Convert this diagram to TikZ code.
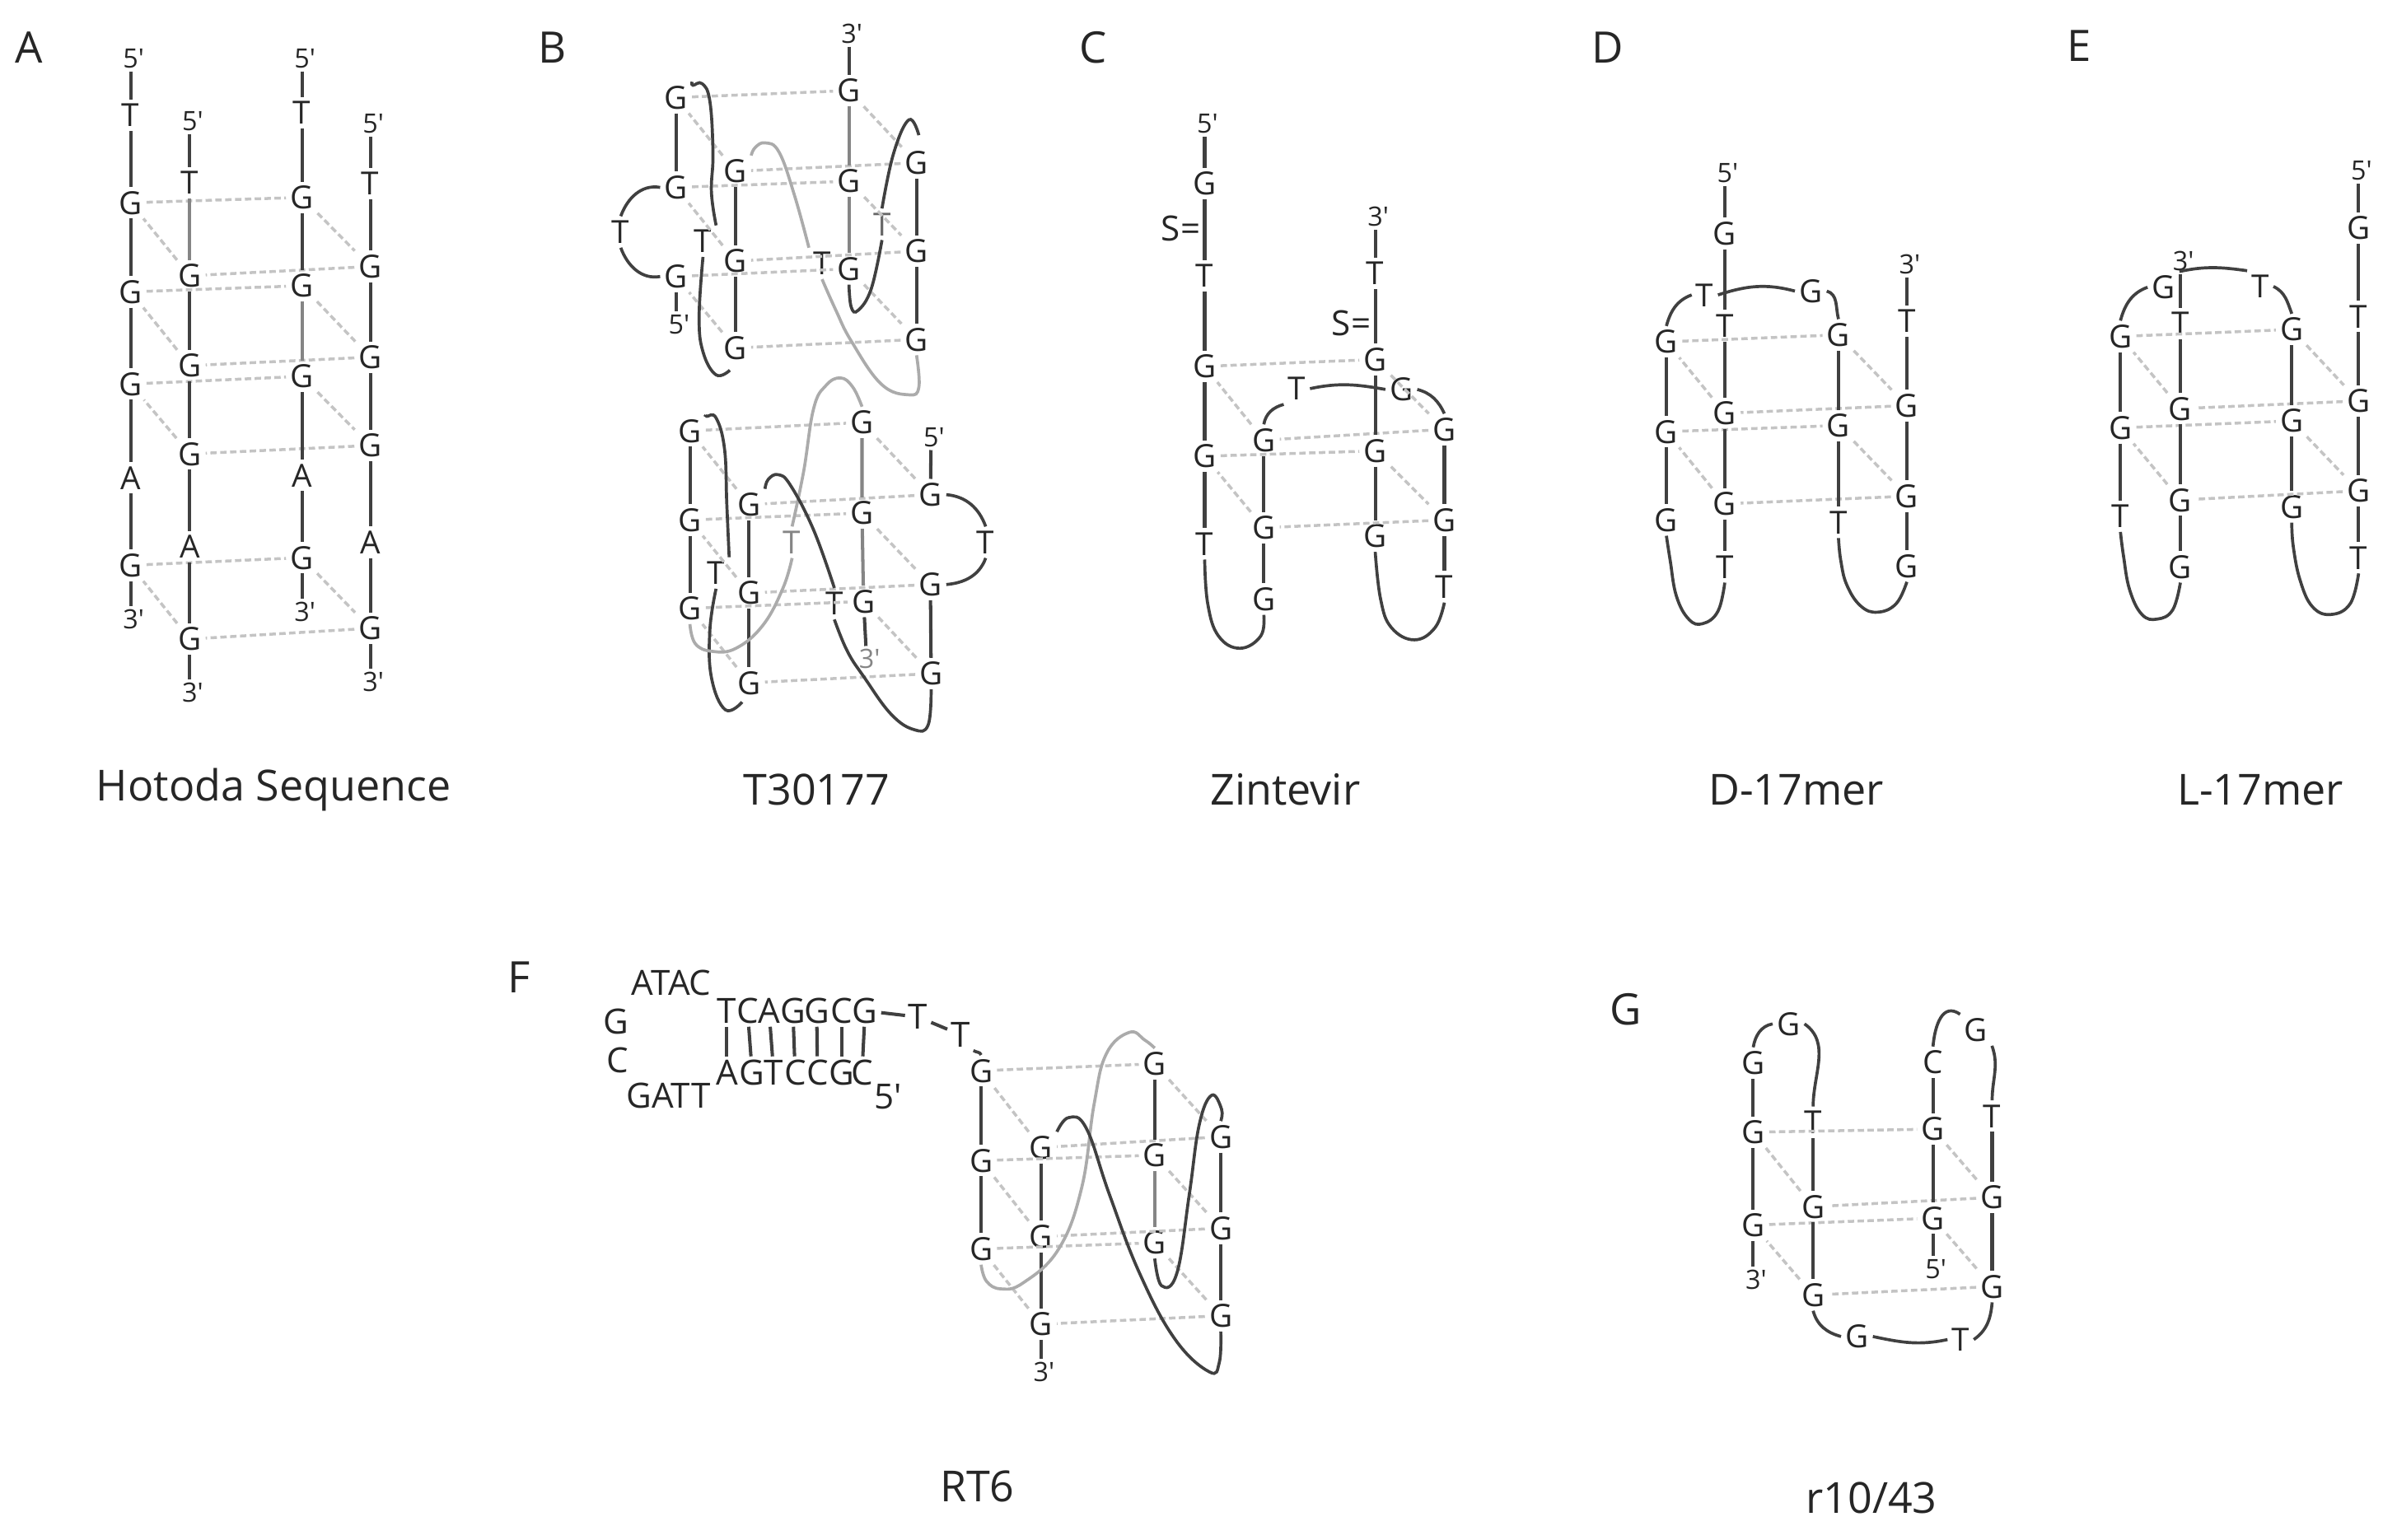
\documentclass[tikz,border=0pt]{standalone}
\usepackage{fontspec}
\setmainfont{Open Sans}
\definecolor{inkdark}{HTML}{404040}
\definecolor{inkmid}{HTML}{858585}
\definecolor{inkpale}{HTML}{ABABAB}
\definecolor{inkpair}{HTML}{C4C4C4}
\definecolor{inktext}{HTML}{262626}
\newcommand{\pf}{5\rlap{′}}
\newcommand{\pt}{3\rlap{′}}
\tikzset{
	nuc/.style={font=\fontsize{11}{11}\selectfont,text=inktext,inner sep=1.3pt,text height=7.9pt,text depth=0pt},
	nucb/.style={font=\fontsize{12}{12}\selectfont,text=inktext,inner sep=1pt,text height=8.6pt,text depth=0pt},
	tag/.style={font=\fontsize{9.2}{9}\selectfont,text=inktext,inner sep=1pt,text height=6.6pt,text depth=0pt},
	sulfur/.style={font=\fontsize{12}{12}\selectfont,text=inktext,inner sep=0pt,anchor=east},
	panel/.style={font=\fontsize{15}{15}\selectfont,text=inktext,inner sep=0pt},
	seqname/.style={font=\fontsize{14.8}{15}\selectfont,text=inktext,inner sep=0pt},
	strand/.style={draw=inkdark,line width=1.15pt},
	strandmid/.style={draw=inkmid,line width=1.15pt},
	pair/.style={draw=inkpair,line width=1pt,dash pattern=on 2.2pt off 1.2pt},
	curl/.style={draw=inkdark,line width=1.05pt,smooth,tension=0.7},
	curlpale/.style={draw=inkpale,line width=1.05pt,smooth,tension=0.7}
}
\begin{document}
\begin{tikzpicture}[x=0.018654cm,y=-0.018654cm]
	\useasboundingbox (0,0) rectangle (1560,1002);

	\node[panel] (lbla) at (19,31) {A};
	\node[seqname] (ttla) at (178,514) {Hotoda Sequence};
	\node[tag] (a1a) at (85,38) {\pf};
	\node[nuc] (a1b) at (85,75) {T};
	\node[nuc] (a1c) at (85,132) {G};
	\node[nuc] (a1d) at (85,190) {G};
	\node[nuc] (a1e) at (85,250) {G};
	\node[nuc] (a1f) at (85,311) {A};
	\node[nuc] (a1g) at (85,368) {G};
	\node[tag] (a1h) at (85,403) {\pt};
	\node[tag] (a2a) at (123.5,79) {\pf};
	\node[nuc] (a2b) at (123.5,119) {T};
	\node[nuc] (a2c) at (123.5,179.5) {G};
	\node[nuc] (a2d) at (123.5,238) {G};
	\node[nuc] (a2e) at (123.5,295.5) {G};
	\node[nuc] (a2f) at (123.5,356) {A};
	\node[nuc] (a2g) at (123.5,416) {G};
	\node[tag] (a2h) at (123.5,451) {\pt};
	\node[tag] (a3a) at (196.5,38) {\pf};
	\node[nuc] (a3b) at (196.5,73.5) {T};
	\node[nuc] (a3c) at (196.5,128.5) {G};
	\node[nuc] (a3d) at (196.5,186) {G};
	\node[nuc] (a3e) at (196.5,245) {G};
	\node[nuc] (a3f) at (196.5,309.5) {A};
	\node[nuc] (a3g) at (196.5,363) {G};
	\node[tag] (a3h) at (196.5,398) {\pt};
	\node[tag] (a4a) at (241,80.5) {\pf};
	\node[nuc] (a4b) at (241,119.5) {T};
	\node[nuc] (a4c) at (241,173.5) {G};
	\node[nuc] (a4d) at (241,232.5) {G};
	\node[nuc] (a4e) at (241,290) {G};
	\node[nuc] (a4f) at (241,353) {A};
	\node[nuc] (a4g) at (241,409) {G};
	\node[tag] (a4h) at (241,444) {\pt};
	\draw[pair] (a1c) -- (a3c) -- (a4c) -- (a2c) -- (a1c);
	\draw[pair] (a1d) -- (a3d) -- (a4d) -- (a2d) -- (a1d);
	\draw[pair] (a1e) -- (a3e) -- (a4e) -- (a2e) -- (a1e);
	\draw[pair] (a1g) -- (a3g) -- (a4g) -- (a2g) -- (a1g);
	\draw[strand] (a1a) -- (a1b) -- (a1c) -- (a1d) -- (a1e) -- (a1f) -- (a1g) -- (a1h);
	\draw[strand] (a2a) -- (a2b);
	\draw[strandmid] (a2b) -- (a2c);
	\draw[strand] (a2c) -- (a2d) -- (a2e) -- (a2f) -- (a2g) -- (a2h);
	\draw[strand] (a3a) -- (a3b) -- (a3c) -- (a3d);
	\draw[strandmid] (a3d) -- (a3e);
	\draw[strand] (a3e) -- (a3f) -- (a3g) -- (a3h);
	\draw[strand] (a4a) -- (a4b) -- (a4c) -- (a4d) -- (a4e) -- (a4f) -- (a4g) -- (a4h);

	\node[panel] (lblb) at (359.5,31) {B};
	\node[seqname] (ttlb) at (531.5,514) {T30177};
	\node[nuc] (bta1) at (440,63.5) {G};
	\node[nuc] (bta2) at (440,122) {G};
	\node[nuc] (bta3) at (440,180) {G};
	\node[tag] (bta4) at (440,211) {\pf};
	\node[nuc] (btb1) at (478.5,111.5) {G};
	\node[nuc] (btb2) at (478.5,170) {G};
	\node[nuc] (btb3) at (478.5,226.5) {G};
	\node[tag] (btc1) at (552.5,22) {\pt};
	\node[nuc] (btc2) at (552.5,59) {G};
	\node[nuc] (btc3) at (552.5,118) {G};
	\node[nuc] (btc4) at (552.5,175) {G};
	\node[nuc] (btd1) at (596.5,106) {G};
	\node[nuc] (btd2) at (596.5,163.5) {G};
	\node[nuc] (btd3) at (596.5,221) {G};
	\node[nuc] (btt1) at (404,151) {T};
	\node[nuc] (btt2) at (457.5,157) {T};
	\node[nuc] (btt3) at (535,171.5) {T};
	\node[nuc,text=inkdark!80] (btt4) at (574,146) {T};
	\coordinate (bte1) at (475,241);
	\coordinate (bte2) at (598,88);
	\draw[pair] (bta1) -- (btc2) -- (btd1) -- (btb1) -- (bta1);
	\draw[pair] (bta2) -- (btc3) -- (btd2) -- (btb2) -- (bta2);
	\draw[pair] (bta3) -- (btc4) -- (btd3) -- (btb3) -- (bta3);
	\draw[strand] (bta1) -- (bta2) (bta3) -- (bta4);
	\draw[strand] (btb1) -- (btb2) -- (btb3);
	\draw[strand] (btc1) -- (btc2);
	\draw[strandmid] (btc2) -- (btc3) -- (btc4);
	\draw[strand] (btd1) -- (btd2) -- (btd3);
	\draw[curl] (bta2.west) to[out=170,in=70] (btt1.north);
	\draw[curl] (btt1.south) to[out=-70,in=190] (bta3.west);
	\draw[curl] plot coordinates {(bta1.north east) (451,55.5) (457,54.5) (462,66) (464,100) (463,125) (btt2.north east)};
	\draw[curl] plot coordinates {(btt2.south) (455,206) (457.5,229) (466,244) (bte1)};
	\draw[curlpale] plot coordinates {(btb1.north east) (491.5,96) (498,93) (507,99) (517,127) (btt3.north west)};
	\draw[curlpale] plot coordinates {(btt3.south) (544,202) (554,222) (573.5,250) (591.5,257) (598,252) (btd3.south)};
	\draw[curl] plot coordinates {(btc4.south) (554,200) (558.5,202) (567,188) (btt4.south)};
	\draw[curl] plot coordinates {(btt4.north) (581.5,100) (591.5,78) (bte2)};

	\node[nuc] (bua1) at (449,280.5) {G};
	\node[nuc] (bua2) at (449,338.5) {G};
	\node[nuc] (bua3) at (449,396) {G};
	\node[nuc] (bub1) at (487.5,328.5) {G};
	\node[nuc] (bub2) at (487.5,386) {G};
	\node[nuc] (bub3) at (487.5,444.5) {G};
	\node[nuc] (buc1) at (561,275) {G};
	\node[nuc] (buc2) at (561,334) {G};
	\node[nuc] (buc3) at (562,391.5) {G};
	\node[tag,text=inkmid] (buc4) at (564,429) {\pt};
	\node[tag] (bud1) at (606,284.5) {\pf};
	\node[nuc] (bud2) at (605.5,322) {G};
	\node[nuc] (bud3) at (605.5,380.5) {G};
	\node[nuc] (bud4) at (606,438.5) {G};
	\node[nuc] (but1) at (466,373) {T};
	\node[nuc,text=inkmid] (but2) at (515.5,353) {T};
	\node[nuc] (but3) at (543,393) {T};
	\node[nuc] (but4) at (641.5,353) {T};
	\coordinate (bue1) at (483,457);
	\draw[pair] (bua1) -- (buc1) -- (bud2) -- (bub1) -- (bua1);
	\draw[pair] (bua2) -- (buc2) -- (bud3) -- (bub2) -- (bua2);
	\draw[pair] (bua3) -- (buc3) -- (bud4) -- (bub3) -- (bua3);
	\draw[strand] (bua1) -- (bua2) -- (bua3);
	\draw[strand] (bub1) -- (bub2) -- (bub3);
	\draw[strandmid] (buc1) -- (buc2) -- (buc3);
	\draw[strand] (buc3) -- (buc4);
	\draw[strand] (bud1) -- (bud2) (bud3) -- (bud4);
	\draw[curl] (bud2.east) to[out=-5,in=110] (but4.north);
	\draw[curl] (but4.south) to[out=-110,in=5] (bud3.east);
	\draw[curl] plot coordinates {(bua1.north east) (460,271) (466,272) (471.5,292) (473,328) (but1.north east)};
	\draw[curl] plot coordinates {(but1.south) (462,410) (463,441) (472,462) (bue1)};
	\draw[curlpale] plot coordinates {(bua3.south) (452.5,419) (463.5,424) (479,422) (496.5,407) (509.5,383) (but2.south)};
	\draw[curlpale] plot coordinates {(but2.north) (523,307) (529.5,266) (537.5,251) (547,246) (555,252) (buc1.north)};
	\draw[curl] plot coordinates {(bub1.north east) (500,312) (506.5,309) (514.5,316) (529.5,345) (but3.north)};
	\draw[curl] plot coordinates {(but3.south) (551.5,424) (562.5,441) (580,465) (595,475) (604,472) (bud4.south)};

	\node[panel] (lblc) at (711.5,31) {C};
	\node[seqname] (ttlc) at (836.5,514) {Zintevir};
	\node[tag] (c1a) at (784,80.5) {\pf};
	\node[nuc] (c1b) at (784,119.5) {G};
	\node[sulfur] (s1) at (781.5,149) {S=};
	\node[nuc] (c1c) at (784,179.5) {T};
	\node[nuc] (c1d) at (784,238.5) {G};
	\node[nuc] (c1e) at (784,297) {G};
	\node[nuc] (c1f) at (784,354) {T};
	\node[nuc] (c2a) at (822.5,286.5) {G};
	\node[nuc] (c2b) at (822.5,343.5) {G};
	\node[nuc] (c2c) at (822.5,390) {G};
	\node[nuc] (ct1) at (844,253) {T};
	\node[tag] (c3a) at (895,141) {\pt};
	\node[nuc] (c3b) at (895,178) {T};
	\node[sulfur] (s2) at (892.5,210.5) {S=};
	\node[nuc] (c3c) at (895,234) {G};
	\node[nuc] (c3d) at (895,293.5) {G};
	\node[nuc] (c3e) at (895,349) {G};
	\node[nuc] (ct2) at (912,253.5) {G};
	\node[nuc] (c4a) at (940,279.5) {G};
	\node[nuc] (c4b) at (940,338.5) {G};
	\node[nuc] (c4c) at (940,382) {T};
	\draw[pair] (c1d) -- (c3c) -- (c4a) -- (c2a) -- (c1d);
	\draw[pair] (c1e) -- (c3d) -- (c4b) -- (c2b) -- (c1e);
	\draw[strand] (c1a) -- (c1b) -- (c1c) -- (c1d) -- (c1e) -- (c1f);
	\draw[strand] (c2a) -- (c2b) -- (c2c);
	\draw[strand] (c3a) -- (c3b) -- (c3c) -- (c3d) -- (c3e);
	\draw[strand] (c4a) -- (c4b) -- (c4c);
	\draw[curl] plot coordinates {(c1f.south) (786,393) (793,414) (807,422) (820.5,414) (c2c.south)};
	\draw[curl] plot coordinates {(c3e.south) (898.5,390) (905.5,408.5) (920.5,416.5) (934,408.5) (c4c.south)};
	\draw[curl] (c2a.north) to[out=80,in=195] (ct1.south west);
	\draw[curl] (ct1.east) to[out=12,in=170] (ct2.west);
	\draw[curl] (ct2.east) to[out=-15,in=115] (c4a.north);

	\node[panel] (lbld) at (1046,31) {D};
	\node[seqname] (ttld) at (1169,514) {D-17mer};
	\node[nuc] (d1a) at (1084.5,222.5) {G};
	\node[nuc] (d1b) at (1084.5,281) {G};
	\node[nuc] (d1c) at (1084.5,338.5) {G};
	\node[tag] (d2a) at (1122.5,112.5) {\pf};
	\node[nuc] (d2b) at (1122.5,152) {G};
	\node[nuc] (d2c) at (1122.5,212) {T};
	\node[nuc] (d2d) at (1122.5,269) {G};
	\node[nuc] (d2e) at (1122.5,328) {G};
	\node[nuc] (d2f) at (1122.5,369) {T};
	\node[nuc] (dt1) at (1109.5,192) {T};
	\node[nuc] (dt2) at (1178.5,189.5) {G};
	\node[nuc] (d3a) at (1196.5,218) {G};
	\node[nuc] (d3b) at (1196.5,277) {G};
	\node[nuc] (d3c) at (1196.5,340) {T};
	\node[tag] (d4a) at (1241,172) {\pt};
	\node[nuc] (d4b) at (1241,209) {T};
	\node[nuc] (d4c) at (1241,264) {G};
	\node[nuc] (d4d) at (1241,323) {G};
	\node[nuc] (d4e) at (1241,368.5) {G};
	\draw[pair] (d1a) -- (d3a) -- (d4c) -- (d2d) -- (d1a);
	\draw[pair] (d1b) -- (d3b) -- (d4d) -- (d2e) -- (d1b);
	\draw[strand] (d1a) -- (d1b) -- (d1c);
	\draw[strand] (d2a) -- (d2b) -- (d2c) -- (d2d) -- (d2e) -- (d2f);
	\draw[strand] (d3a) -- (d3b) -- (d3c);
	\draw[strand] (d4a) -- (d4b) -- (d4c) -- (d4d) -- (d4e);
	\draw[curl] (d1a.north) to[out=75,in=200] (dt1.west);
	\draw[curl] (dt1.east) to[out=18,in=165] (dt2.west);
	\draw[curl] (dt2.east) to[out=-15,in=105] (d3a.north);
	\draw[curl] plot coordinates {(d1c.south) (1087,365) (1091,388) (1099,403) (1108,406) (1118,398) (d2f.south)};
	\draw[curl] plot coordinates {(d3c.south) (1198,365) (1202,381) (1211,394.5) (1222,398.5) (1234,393) (d4e.south)};

	\node[panel] (lble) at (1353,30) {E};
	\node[seqname] (ttle) at (1471,514) {L-17mer};
	\node[nuc] (e1a) at (1380,219) {G};
	\node[nuc] (e1b) at (1380,278.5) {G};
	\node[nuc] (e1c) at (1380,336) {T};
	\node[tag] (e2a) at (1419,170) {\pt};
	\node[nuc] (e2b) at (1419,210.5) {T};
	\node[nuc] (e2c) at (1419,266) {G};
	\node[nuc] (e2d) at (1419,325.5) {G};
	\node[nuc] (e2e) at (1419,369) {G};
	\node[nuc] (et1) at (1408,187) {G};
	\node[nuc] (et2) at (1471,186.5) {T};
	\node[nuc] (e3a) at (1491.5,214.5) {G};
	\node[nuc] (e3b) at (1491.5,274) {G};
	\node[nuc] (e3c) at (1491.5,330) {G};
	\node[tag] (e4a) at (1535,111) {\pf};
	\node[nuc] (e4b) at (1535,148.5) {G};
	\node[nuc] (e4c) at (1535,206) {T};
	\node[nuc] (e4d) at (1535,261) {G};
	\node[nuc] (e4e) at (1535,319.5) {G};
	\node[nuc] (e4f) at (1535,363) {T};
	\draw[pair] (e1a) -- (e3a) -- (e4d) -- (e2c) -- (e1a);
	\draw[pair] (e1b) -- (e3b) -- (e4e) -- (e2d) -- (e1b);
	\draw[strand] (e1a) -- (e1b) -- (e1c);
	\draw[strand] (e2a) -- (e2b) -- (e2c) -- (e2d) -- (e2e);
	\draw[strand] (e3a) -- (e3b) -- (e3c);
	\draw[strand] (e4a) -- (e4b) -- (e4c) -- (e4d) -- (e4e) -- (e4f);
	\draw[curl] (e1a.north) to[out=75,in=200] (et1.west);
	\draw[curl] (et1.north east) to[out=12,in=172] (et2.north west);
	\draw[curl] (et2.east) to[out=-25,in=110] (e3a.north);
	\draw[curl] plot coordinates {(e1c.south) (1382,362) (1386,384) (1394,400) (1404,403) (1414,397) (e2e.south)};
	\draw[curl] plot coordinates {(e3c.south) (1492.5,356) (1497,378) (1505,395) (1517,400) (1529.5,393) (e4f.south)};

	\node[panel] (lblf) at (338,636) {F};
	\node[seqname] (ttlf) at (636,967.5) {RT6};
	\node[nucb] (fl1) at (437,640) {ATAC};
	\node[nucb] (fl2) at (401,665) {G};
	\node[nucb] (fl3) at (402,690) {C};
	\node[nucb] (fl4) at (435,713) {GATT};
	\node[nucb] (ft1) at (473,658) {T};
	\node[nucb] (ft2) at (486.5,658) {C};
	\node[nucb] (ft3) at (500.5,658) {A};
	\node[nucb] (ft4) at (516,658) {G};
	\node[nucb] (ft5) at (531.5,658) {G};
	\node[nucb] (ft6) at (548,658) {C};
	\node[nucb] (ft7) at (563,658) {G};
	\node[nucb] (fb1) at (473,698) {A};
	\node[nucb] (fb2) at (489.5,698) {G};
	\node[nucb] (fb3) at (503.5,698) {T};
	\node[nucb] (fb4) at (517.5,698) {C};
	\node[nucb] (fb5) at (532,698) {C};
	\node[nucb] (fb6) at (548,698) {G};
	\node[nucb] (fb7) at (561,698) {C};
	\node[nucb] (fl5) at (578,714) {5′};
	\node[nucb] (fu1) at (597.5,662) {T};
	\node[nucb] (fu2) at (625,673.5) {T};
	\node[nuc] (f1a) at (638.5,697) {G};
	\node[nuc] (f1b) at (638.5,755.5) {G};
	\node[nuc] (f1c) at (638.5,813) {G};
	\node[nuc] (f2a) at (677.5,747) {G};
	\node[nuc] (f2b) at (677.5,805) {G};
	\node[nuc] (f2c) at (677.5,862) {G};
	\node[tag] (f2d) at (677.5,893) {\pt};
	\node[nuc] (f3a) at (751.5,692.5) {G};
	\node[nuc] (f3b) at (751.5,752) {G};
	\node[nuc] (f3c) at (751.5,809) {G};
	\node[nuc] (f4a) at (794.5,740) {G};
	\node[nuc] (f4b) at (794.5,799.5) {G};
	\node[nuc] (f4c) at (794.5,856.5) {G};
	\foreach \i in {1,...,7}
		\draw[strand] (ft\i) -- (fb\i);
	\draw[pair] (f1a) -- (f3a) -- (f4a) -- (f2a) -- (f1a);
	\draw[pair] (f1b) -- (f3b) -- (f4b) -- (f2b) -- (f1b);
	\draw[pair] (f1c) -- (f3c) -- (f4c) -- (f2c) -- (f1c);
	\draw[strand] (f1a) -- (f1b) -- (f1c);
	\draw[strand] (f2a) -- (f2b) -- (f2c) -- (f2d);
	\draw[strand] (f3a) -- (f3b);
	\draw[strandmid] (f3b) -- (f3c);
	\draw[strand] (f4a) -- (f4b) -- (f4c);
	\draw[strand] (ft7) -- (fu1) -- (fu2);
	\draw[curl] (fu2.south east) to[out=-35,in=105] (f1a.north);
	\draw[curlpale] plot coordinates {(f1c.south) (642,834) (651.5,839) (666,835) (689,813) (704,773) (712,719) (720,686) (735,672) (745,677) (f3a.north)};
	\draw[curl] plot coordinates {(f2a.north east) (695.5,727.5) (707,734.5) (722,777.5) (741.5,828.5) (764.5,871.5) (787,893) (793.5,887) (f4c.south)};
	\draw[curl] plot coordinates {(f3c.south) (756,837) (766,828.5) (774,777.5) (780.5,732) (788.5,713) (795,722) (f4a.north)};

	\node[panel] (lblg) at (1058,657) {G};
	\node[seqname] (ttlg) at (1218,975) {r10/43};
	\node[nuc] (g1a) at (1141,692) {G};
	\node[nuc] (g1b) at (1141,737) {G};
	\node[nuc] (g1c) at (1141,797.5) {G};
	\node[tag] (g1d) at (1141,833) {\pt};
	\node[nuc] (gt1) at (1164,666.5) {G};
	\node[nuc] (g2a) at (1180,730.5) {T};
	\node[nuc] (g2b) at (1180,785.5) {G};
	\node[nuc] (g2c) at (1180,843) {G};
	\node[nuc] (gt2) at (1208.5,870) {G};
	\node[nuc] (gt3) at (1276,872) {T};
	\node[nuc] (g3a) at (1258,691.5) {C};
	\node[nuc] (g3b) at (1258,735) {G};
	\node[nuc] (g3c) at (1258,793) {G};
	\node[tag] (g3d) at (1258,826) {\pf};
	\node[nuc] (gt4) at (1286,670.5) {G};
	\node[nuc] (g4a) at (1296.5,726.5) {T};
	\node[nuc] (g4b) at (1296.5,779.5) {G};
	\node[nuc] (g4c) at (1296.5,837.5) {G};
	\draw[pair] (g1b) -- (g3b) -- (g4b) -- (g2b) -- (g1b);
	\draw[pair] (g1c) -- (g3c) -- (g4c) -- (g2c) -- (g1c);
	\draw[strand] (g1a) -- (g1b) -- (g1c) -- (g1d);
	\draw[strand] (g2a) -- (g2b) -- (g2c);
	\draw[strand] (g3a) -- (g3b) -- (g3c) -- (g3d);
	\draw[strand] (g4a) -- (g4b) -- (g4c);
	\draw[curl] (g1a.north) to[out=80,in=190] (gt1.west);
	\draw[curl] (gt1.east) to[out=-35,in=90] (g2a.north);
	\draw[curl] (g3a.north) to[out=85,in=145,looseness=1.3] (gt4.north west);
	\draw[curl] (gt4.south east) to[out=-70,in=90] (g4a.north);
	\draw[curl] (g2c.south) to[out=-75,in=165] (gt2.west);
	\draw[curl] (gt2.east) to[out=-12,in=-168] (gt3.west);
	\draw[curl] (gt3.east) to[out=35,in=-95] (g4c.south);
\end{tikzpicture}
\end{document}
